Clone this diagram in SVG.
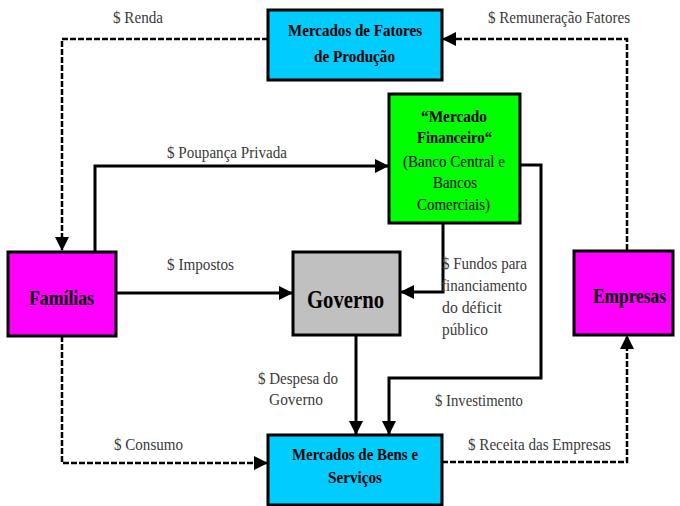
<svg xmlns="http://www.w3.org/2000/svg" width="680" height="506" viewBox="0 0 680 506">
<defs>
<marker id="arr" markerUnits="userSpaceOnUse" markerWidth="14" markerHeight="14" refX="13" refY="7" orient="auto">
<path d="M0,0 L14,7 L0,14 z" fill="#000"/>
</marker>
<style>
.box{stroke:#000;stroke-width:3}
.solid{fill:none;stroke:#000;stroke-width:3}
.dash{fill:none;stroke:#000;stroke-width:2.5;stroke-dasharray:6,2}
.lbl{font-family:"Liberation Serif","Times New Roman",serif;font-size:16px;fill:#3a3a3a}
.bt{font-family:"Liberation Serif","Times New Roman",serif;font-weight:bold;fill:#000}
.nt{font-family:"Liberation Serif","Times New Roman",serif;fill:#000}
</style>
</defs>
<rect width="680" height="506" fill="#fff"/>
<g id="connectors">
<path class="dash" d="M268,39 H62 V250" marker-end="url(#arr)"/>
<path class="dash" d="M627,250 V39 H443" marker-end="url(#arr)"/>
<path class="solid" d="M95,252 V166 H388" marker-end="url(#arr)"/>
<path class="solid" d="M116,293 H292" marker-end="url(#arr)"/>
<path class="solid" d="M443,223 V292 H401" marker-end="url(#arr)"/>
<path class="solid" d="M520,165 H541 V378 H389 V434" marker-end="url(#arr)"/>
<path class="solid" d="M356,335 V434" marker-end="url(#arr)"/>
<path class="dash" d="M62,336 V463 H267" marker-end="url(#arr)"/>
<path class="dash" d="M442,462 H627 V336" marker-end="url(#arr)"/>
</g>
<g id="labels">
<text class="lbl" x="113" y="23" textLength="50" lengthAdjust="spacingAndGlyphs">$ Renda</text>
<text class="lbl" x="488" y="23" textLength="142" lengthAdjust="spacingAndGlyphs">$ Remuneração Fatores</text>
<text class="lbl" x="167" y="158" textLength="120" lengthAdjust="spacingAndGlyphs">$ Poupança Privada</text>
<text class="lbl" x="167" y="270" textLength="67" lengthAdjust="spacingAndGlyphs">$ Impostos</text>
<text class="lbl" x="442" y="269" textLength="85" lengthAdjust="spacingAndGlyphs">$ Fundos para</text>
<text class="lbl" x="441" y="291" textLength="86" lengthAdjust="spacingAndGlyphs">financiamento</text>
<text class="lbl" x="442" y="313" textLength="60" lengthAdjust="spacingAndGlyphs">do déficit</text>
<text class="lbl" x="442" y="335" textLength="46" lengthAdjust="spacingAndGlyphs">público</text>
<text class="lbl" x="258" y="384" textLength="80" lengthAdjust="spacingAndGlyphs">$ Despesa do</text>
<text class="lbl" x="269" y="405" textLength="54" lengthAdjust="spacingAndGlyphs">Governo</text>
<text class="lbl" x="435" y="406" textLength="88" lengthAdjust="spacingAndGlyphs">$ Investimento</text>
<text class="lbl" x="114" y="450" textLength="69" lengthAdjust="spacingAndGlyphs">$ Consumo</text>
<text class="lbl" x="468" y="450" textLength="143" lengthAdjust="spacingAndGlyphs">$ Receita das Empresas</text>
</g>
<g id="fatores">
<rect class="box" x="268" y="10" width="174" height="70" fill="#00ccff"/>
<text class="bt" font-size="16" x="288" y="36" textLength="134" lengthAdjust="spacingAndGlyphs">Mercados de Fatores</text>
<text class="bt" font-size="16" x="314" y="62" textLength="81" lengthAdjust="spacingAndGlyphs">de Produção</text>
</g>
<g id="financeiro">
<rect class="box" x="389" y="94" width="131" height="129" fill="#00ff00"/>
<text class="bt" font-size="17" x="421" y="122" textLength="66" lengthAdjust="spacingAndGlyphs">“Mercado</text>
<text class="bt" font-size="17" x="417" y="143" textLength="75" lengthAdjust="spacingAndGlyphs">Financeiro“</text>
<text class="nt" font-size="17" x="403" y="167" textLength="102" lengthAdjust="spacingAndGlyphs">(Banco Central e</text>
<text class="nt" font-size="17" x="433" y="188" textLength="44" lengthAdjust="spacingAndGlyphs">Bancos</text>
<text class="nt" font-size="17" x="417" y="210" textLength="73" lengthAdjust="spacingAndGlyphs">Comerciais)</text>
</g>
<g id="familias">
<rect class="box" x="8" y="252" width="108" height="84" fill="#ff00ff"/>
<text class="bt" font-size="22" x="29" y="305" textLength="65" lengthAdjust="spacingAndGlyphs">Famílias</text>
</g>
<g id="governo">
<rect class="box" x="293" y="252" width="107" height="83" fill="#c0c0c0"/>
<text class="bt" font-size="25" x="307" y="308" fill="#1a1a1a" textLength="77" lengthAdjust="spacingAndGlyphs">Governo</text>
</g>
<g id="empresas">
<rect class="box" x="574" y="251" width="99" height="84" fill="#ff00ff"/>
<text class="bt" font-size="21" x="593" y="303" textLength="73" lengthAdjust="spacingAndGlyphs">Empresas</text>
</g>
<g id="bens">
<rect class="box" x="268" y="435" width="174" height="70" fill="#00ccff"/>
<text class="bt" font-size="16" x="292" y="460" textLength="126" lengthAdjust="spacingAndGlyphs">Mercados de Bens e</text>
<text class="bt" font-size="16" x="328" y="483" textLength="54" lengthAdjust="spacingAndGlyphs">Serviços</text>
</g>
</svg>
